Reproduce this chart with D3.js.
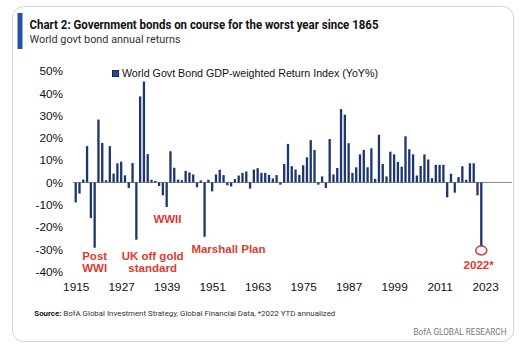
<!DOCTYPE html>
<html><head><meta charset="utf-8">
<script src="https://cdn.jsdelivr.net/npm/d3@7"></script>
<style>
html,body{margin:0;padding:0;background:#fff;}
svg{display:block;}
</style></head>
<body>
<div id="chart"></div>
<script>
const years = d3.range(1915, 2023);
const returns = [
 -9, -5, 1.3, 16.3, -16, -29.3, 28.2, 17.7, 1, 16.3,
 4, 8.6, 9.3, 3.2, -2.5, 8.7, -25.7, 38.6, 45.3, 12.7,
 1.2, 0.7, -1.6, -5.8, -11, 14, 6.6, 1.3, 1, 5.2,
 4.5, 3.6, -2.2, 0.9, -24.4, 1.2, -4, 3.6, 5.7, 3.3,
 -1.3, -1.8, 1.5, 3.1, 4.3, 4.9, -2.8, 5.8, 6.4, 4.3,
 4.3, 3.4, 1.8, 3.3, -1, 8.3, 17.3, 7.3, 5.8, 3.4,
 7.7, 11.3, 19, 14.6, -1, 2.7, -2.5, 19.5, 3.6, 6.5,
 32.9, 30.4, 17.6, 4.3, 6.8, 12.6, 14.6, 6.8, 15.3, 1.6,
 21.4, 8.3, 2.7, 13.8, 12.6, 9.2, 7.1, 20.7, 14.9, 12.6,
 3.1, 7.4, 12.6, 10.3, 1.9, 7.9, 7.9, 7.9, -6.7, 3.9,
 -4.6, 2.4, 7.3, 1.2, 8.6, 8.6, -5.8, -29.6
];
const xTicks = [1915, 1927, 1939, 1951, 1963, 1975, 1987, 1999, 2011, 2023];
const yTicks = [50, 40, 30, 20, 10, 0, -10, -20, -30, -40];
const annotations = [
  {text: "Post", year: 1920, value: -34.6},
  {text: "WWI", year: 1920, value: -40.2},
  {text: "UK off gold", year: 1935.3, value: -34.6},
  {text: "standard", year: 1935.3, value: -40.2},
  {text: "WWII", year: 1939.2, value: -18},
  {text: "Marshall Plan", year: 1955.3, value: -31.5},
  {text: "2022*", year: 2021.3, value: -39}
];
const data = years.map((y, i) => ({year: y, value: returns[i]}));

const W = 526, H = 350;
const svg = d3.select("#chart").append("svg").attr("width", W).attr("height", H);

// frame
svg.append("rect").attr("x", 12.5).attr("y", 6.5).attr("width", 501).attr("height", 335)
  .attr("rx", 11).attr("fill", "#fff").attr("stroke", "#d4d4d4").attr("stroke-width", 1);
svg.append("rect").attr("x", 17.5).attr("y", 13).attr("width", 5).attr("height", 36).attr("fill", "#2652a8");

svg.append("text").attr("x", 29.5).attr("y", 28.5)
  .attr("font-family", "Roboto, 'Liberation Sans', sans-serif").attr("font-weight", "bold")
  .attr("font-size", 12.5).attr("fill", "#111")
  .attr("textLength", 349).attr("lengthAdjust", "spacingAndGlyphs")
  .text("Chart 2: Government bonds on course for the worst year since 1865");
svg.append("text").attr("x", 29.5).attr("y", 42.8)
  .attr("font-family", "Roboto, 'Liberation Sans', sans-serif")
  .attr("font-size", 11.5).attr("fill", "#333")
  .attr("textLength", 151).attr("lengthAdjust", "spacingAndGlyphs")
  .text("World govt bond annual returns");

// scales
const x = d3.scaleLinear().domain([1915, 2022]).range([75.7, 481.3]);
const y = d3.scaleLinear().domain([-40, 50]).range([271.6, 71]);
const barW = 2.3;

// y axis
const yAxis = svg.append("g").attr("transform", "translate(63,0)")
  .call(d3.axisLeft(y).tickValues(yTicks).tickSize(0).tickPadding(0).tickFormat(d => d + "%"));
yAxis.select(".domain").remove();
yAxis.selectAll("text").attr("font-family", "'Liberation Sans', Arial, sans-serif")
  .attr("font-size", 11.8).attr("fill", "#111");

// x axis
const xAxis = svg.append("g").attr("transform", "translate(0,282.5)")
  .call(d3.axisBottom(x).tickValues(xTicks).tickSize(0).tickPadding(0).tickFormat(d3.format("d")));
xAxis.select(".domain").remove();
xAxis.selectAll("text").attr("font-family", "'Liberation Sans', Arial, sans-serif")
  .attr("font-size", 11.8).attr("fill", "#111");

// zero line
svg.append("line").attr("x1", 73).attr("x2", 512).attr("y1", y(0)).attr("y2", y(0))
  .attr("stroke", "#8a8a8a").attr("stroke-width", 1);

// bars
svg.append("g").selectAll("rect").data(data).join("rect")
  .attr("x", d => x(d.year) - barW / 2)
  .attr("width", barW)
  .attr("y", d => y(Math.max(0, d.value)))
  .attr("height", d => Math.abs(y(d.value) - y(0)))
  .attr("fill", "#1d3570");

// legend
svg.append("rect").attr("x", 112.5).attr("y", 70.5).attr("width", 6).attr("height", 6)
  .attr("fill", "#2a4a8c").attr("stroke", "#13285a").attr("stroke-width", 1);
svg.append("text").attr("x", 122).attr("y", 76.6)
  .attr("font-family", "'Liberation Sans', Arial, sans-serif").attr("font-size", 11.5).attr("fill", "#111")
  .attr("textLength", 256).attr("lengthAdjust", "spacingAndGlyphs")
  .text("World Govt Bond GDP-weighted Return Index (YoY%)");

// annotations
svg.append("g").selectAll("text").data(annotations).join("text")
  .attr("x", d => x(d.year)).attr("y", d => y(d.value))
  .attr("text-anchor", "middle")
  .attr("font-family", "'Liberation Sans', Arial, sans-serif").attr("font-weight", "bold")
  .attr("font-size", 11.5).attr("fill", "#dc3b2f")
  .text(d => d.text);

// circle on 2022
const last = data[data.length - 1];
svg.append("ellipse").attr("cx", x(last.year)).attr("cy", y(last.value) + 2)
  .attr("rx", 5.5).attr("ry", 4.5).attr("fill", "#fff").attr("stroke", "#dc3b2f").attr("stroke-width", 1.5);

// source
const src = svg.append("text").attr("x", 34.3).attr("y", 316.3)
  .attr("font-family", "Roboto, 'Liberation Sans', sans-serif").attr("font-size", 8).attr("fill", "#333")
  .attr("textLength", 301).attr("lengthAdjust", "spacingAndGlyphs");
src.append("tspan").attr("font-weight", "bold").attr("fill", "#111").text("Source:");
src.append("tspan").text(" BofA Global Investment Strategy, Global Financial Data, *2022 YTD annualized");

svg.append("text").attr("x", 506.5).attr("y", 335).attr("text-anchor", "end")
  .attr("font-family", "Roboto, 'Liberation Sans', sans-serif").attr("font-size", 8.3).attr("fill", "#777")
  .attr("textLength", 93).attr("lengthAdjust", "spacingAndGlyphs")
  .text("BofA GLOBAL RESEARCH");
</script>
</body></html>
